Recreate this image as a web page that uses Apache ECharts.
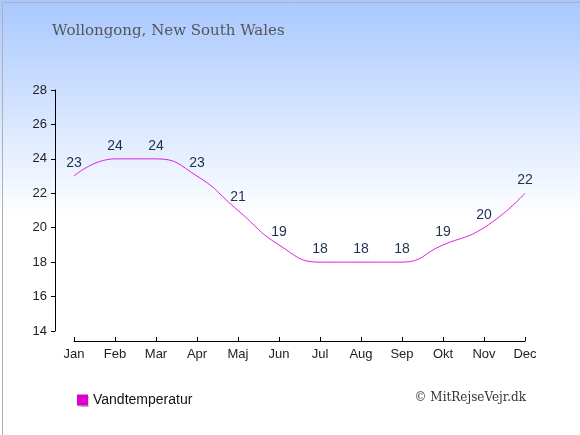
<!DOCTYPE html>
<html>
<head>
<meta charset="utf-8">
<script src="https://cdn.jsdelivr.net/npm/echarts@6/dist/echarts.min.js"></script>
<style>
  html, body { margin: 0; padding: 0; background: #fff; }
  #chart { width: 580px; height: 435px; }
</style>
</head>
<body>
<div id="chart"></div>
<script>
// data
var months = ['Jan', 'Feb', 'Mar', 'Apr', 'Maj', 'Jun', 'Jul', 'Aug', 'Sep', 'Okt', 'Nov', 'Dec']
var waterTemp = [23, 24, 24, 23, 21, 19, 18, 18, 18, 19, 20, 22]
var seriesName = 'Vandtemperatur'
var titleText = 'Wollongong, New South Wales'
var creditText = '\u00a9 MitRejseVejr.dk'

var myChart = echarts.init(document.getElementById('chart'))

var option = {
    animation: false,
    backgroundColor: new echarts.graphic.LinearGradient(0, 0, 0, 1, [
        { offset: 0, color: '#a8c8ff' },
        { offset: 0.5, color: '#ffffff' },
        { offset: 1, color: '#ffffff' }
    ]),
    title: {
        text: titleText,
        left: 52,
        top: 24,
        padding: 0,
        textStyle: {
            fontFamily: 'DejaVu Serif',
            fontWeight: 'normal',
            fontSize: 15,
            color: '#555555'
        }
    },
    legend: {
        left: 77,
        top: 393,
        padding: 0,
        itemWidth: 11,
        itemHeight: 11,
        itemGap: 8,
        icon: 'rect',
        textStyle: {
            fontFamily: 'Liberation Sans',
            fontSize: 14,
            color: '#111111'
        },
        data: [{ name: seriesName, itemStyle: { color: '#dd00cc', shadowColor: 'rgba(0,0,0,0.3)', shadowOffsetX: 1, shadowOffsetY: 1, shadowBlur: 1 } }]
    },
    grid: {
        left: 74,
        right: 55,
        top: 90,
        bottom: 104
    },
    xAxis: {
        type: 'category',
        data: months,
        boundaryGap: false,
        offset: 10,
        axisLine: { lineStyle: { color: '#000', width: 1 } },
        axisTick: { inside: true, length: 4, lineStyle: { color: '#000' } },
        axisLabel: {
            fontFamily: 'Liberation Sans',
            fontSize: 13,
            color: '#222',
            margin: 7
        },
        splitLine: { show: false }
    },
    yAxis: {
        type: 'value',
        min: 14,
        max: 28,
        interval: 2,
        offset: 19,
        axisLine: { show: true, lineStyle: { color: '#000', width: 1 } },
        axisTick: { show: true, length: 4, lineStyle: { color: '#000' } },
        axisLabel: {
            fontFamily: 'Liberation Sans',
            fontSize: 13,
            color: '#222',
            margin: 8
        },
        splitLine: { show: false }
    },
    series: [
        {
            name: seriesName,
            type: 'line',
            data: waterTemp,
            smooth: 0.5,
            symbol: 'circle',
            symbolSize: 0,
            showSymbol: true,
            lineStyle: { color: '#e020dd', width: 1 },
            itemStyle: { color: '#dd00cc' },
            label: {
                show: true,
                position: 'top',
                distance: 6,
                fontFamily: 'Liberation Sans',
                fontSize: 14,
                color: '#1e3050'
            }
        }
    ],
    graphic: [
        {
            type: 'text',
            right: 54,
            top: 392,
            style: {
                text: creditText,
                fontFamily: 'DejaVu Serif',
                fontSize: 12,
                fill: '#333333'
            }
        },
        {
            type: 'rect',
            left: 0,
            top: 0,
            shape: { x: 0.5, y: 0.5, width: 579, height: 434 },
            style: { fill: 'none', stroke: '#b0b0b0', lineWidth: 1 },
            silent: true
        }
    ]
}

myChart.setOption(option)
</script>
</body>
</html>
